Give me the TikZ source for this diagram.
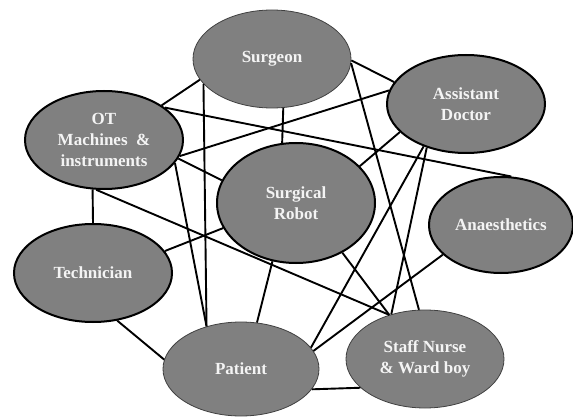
\documentclass[tikz,border=0pt]{standalone}
\usepackage{fontspec}
\setmainfont{Liberation Serif}
\usetikzlibrary{shapes.geometric}
\definecolor{blobgray}{RGB}{128,128,128}
\definecolor{blobtext}{RGB}{244,244,244}

\begin{document}
\begin{tikzpicture}[x=1pt, y=-1pt,
    blob/.style={ellipse, fill=blobgray, draw=black!75, line width=0.8pt, inner sep=0pt,
        minimum width=158pt, minimum height=98pt, align=center, text=blobtext,
        font=\fontsize{17}{21}\selectfont\bfseries},
    heavy/.style={blob, draw=black, line width=2pt},
    link/.style={line width=1.9pt}]
    \useasboundingbox (0,0) rectangle (573,417);
    \node[blob] (surgeon) at (272,59) {Surgeon};
    \node[heavy] (ot) at (104,140) {OT\\Machines~ \&\\instruments};
    \node[heavy] (asst) at (466,104) {Assistant\\Doctor};
    \node[heavy, minimum height=120pt] (robot) at (296,203) {Surgical\\Robot};
    \node[heavy, minimum width=144pt, minimum height=96pt] (anaes) at (501,225) {Anaesthetics};
    \node[heavy] (tech) at (93,273) {Technician};
    \node[blob, minimum width=156pt, minimum height=94pt] (patient) at (241,369) {Patient};
    \node[blob] (nurse) at (425,359) {Staff Nurse\\\& Ward boy};
    \draw[link] (ot.31) -- (surgeon.196);
    \draw[link] (surgeon.200) -- (patient.129);
    \draw[link] (ot.28) -- (anaes.78);
    \draw[link] (ot.-12) -- (asst.170);
    \draw[link] (surgeon.-77) -- (robot.103);
    \draw[link] (ot.-14) -- (robot.163);
    \draw[link] (ot.-18) -- (patient.129);
    \draw[link] (ot.257) -- (tech.90);
    \draw[link] (ot.261) -- (nurse.129);
    \draw[link] (tech.17) -- (robot.199);
    \draw[link] (tech.-63) -- (patient.173);
    \draw[link] (robot.248) -- (patient.71);
    \draw[link] (surgeon.-1) -- (asst.163);
    \draw[link] (surgeon.-3) -- (nurse.97);
    \draw[link] (asst.203) -- (robot.30);
    \draw[link] (asst.225) -- (patient.17);
    \draw[link] (asst.228) -- (nurse.127);
    \draw[link] (robot.-47) -- (nurse.129);
    \draw[link] (anaes.207) -- (patient.14);
    \draw[link] (patient.-16) -- (nurse.204);
\end{tikzpicture}
\end{document}
